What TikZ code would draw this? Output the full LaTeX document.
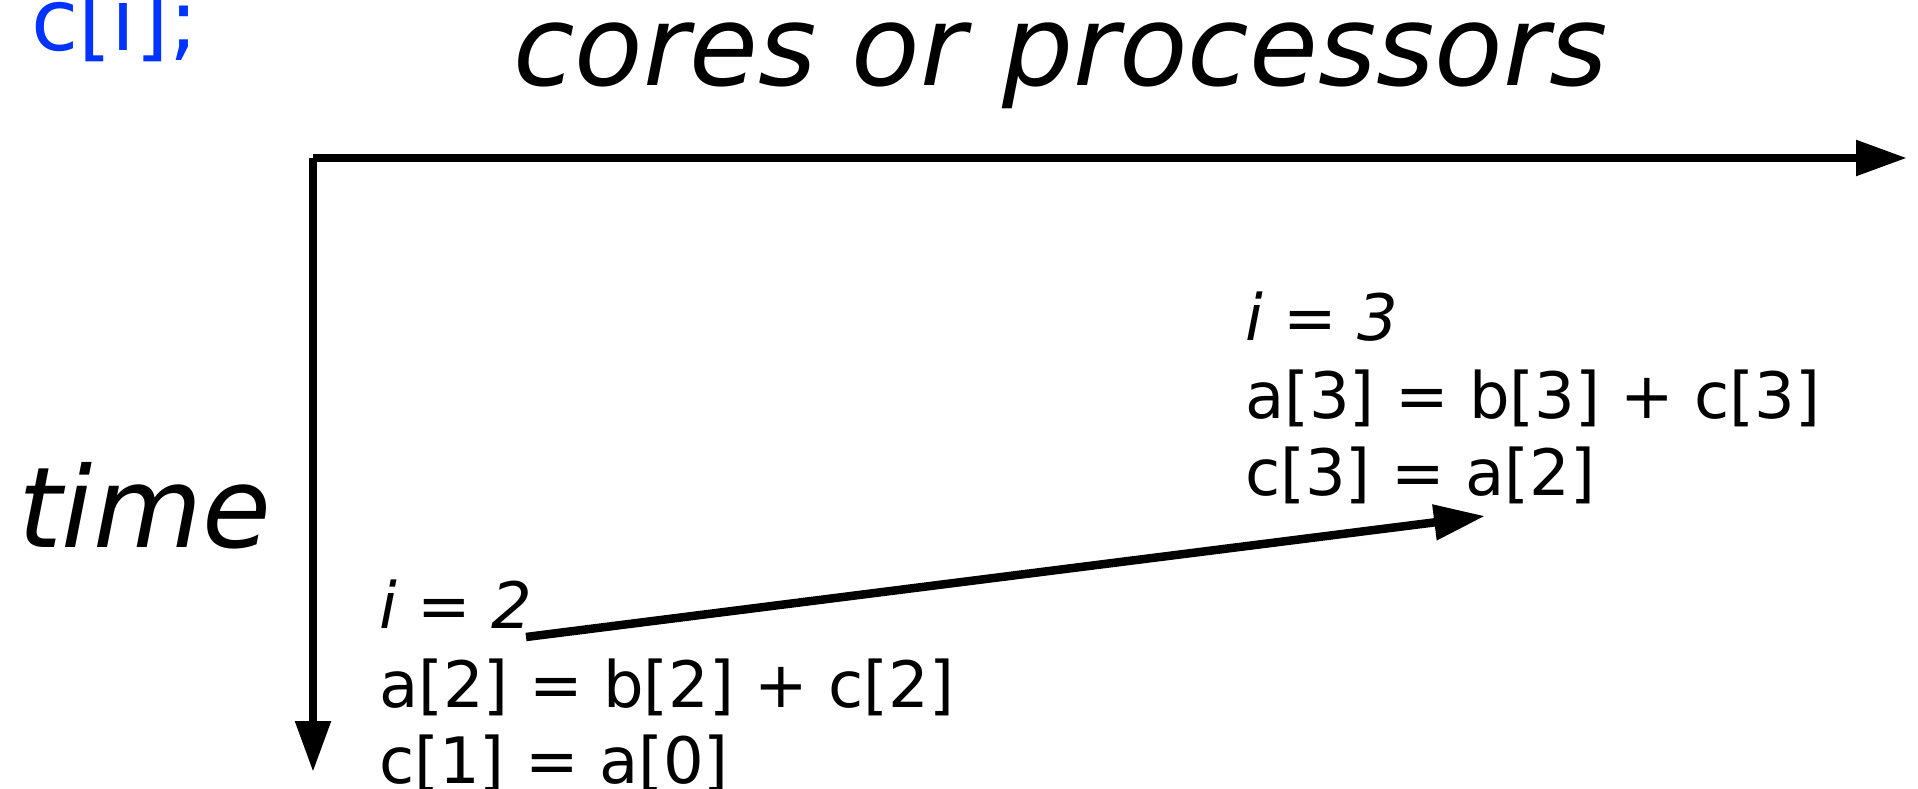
\documentclass[tikz,border=0pt]{standalone}
\usepackage{fontspec}
\setmainfont{DejaVu Sans}
\usetikzlibrary{arrows.meta}
\definecolor{codeblue}{RGB}{0,51,255}
\begin{document}
\begin{tikzpicture}[x=1pt,y=-1pt,
  txt/.style={anchor=base west, inner sep=0pt, outer sep=0pt},
  big/.style={txt, font=\fontsize{112}{134}\selectfont\itshape},
  code/.style={txt, font=\fontsize{64}{78}\selectfont},
  codeit/.style={txt, font=\fontsize{64}{78}\selectfont\itshape},
  axis/.style={line width=8.5pt, line cap=butt, -{Triangle[length=51pt,width=34pt]}},
]
\useasboundingbox (0,0) rectangle (1918,789);
\clip (0,0) rectangle (1918,789);

\node[txt, font=\fontsize{86}{102}\selectfont, text=codeblue] (ci) at (31,51) {c[i];};
\node[big] (cores) at (513,86) {cores or processors};
\node[big] (time) at (18,547) {time};

\node[codeit] (i2) at (379,628) {i = 2};
\node[code] (a2) at (379,707) {a[2] = b[2] + c[2]};
\node[code] (c1) at (379,783) {c[1] = a[0]};

\node[codeit] (i3) at (1245,340) {i = 3};
\node[code] (a3) at (1245,418) {a[3] = b[3] + c[3]};
\node[code] (c3) at (1245,495) {c[3] = a[2]};

\coordinate (O) at (313,158);
\coordinate (X) at (1907,158);
\coordinate (Y) at (313,772);
\coordinate (s) at (526,637);
\coordinate (t) at (1485,516);

\draw[axis] (O) -- (X);
\draw[axis] (O) -- (Y);
\draw[axis] (s) -- (t);
\end{tikzpicture}
\end{document}
